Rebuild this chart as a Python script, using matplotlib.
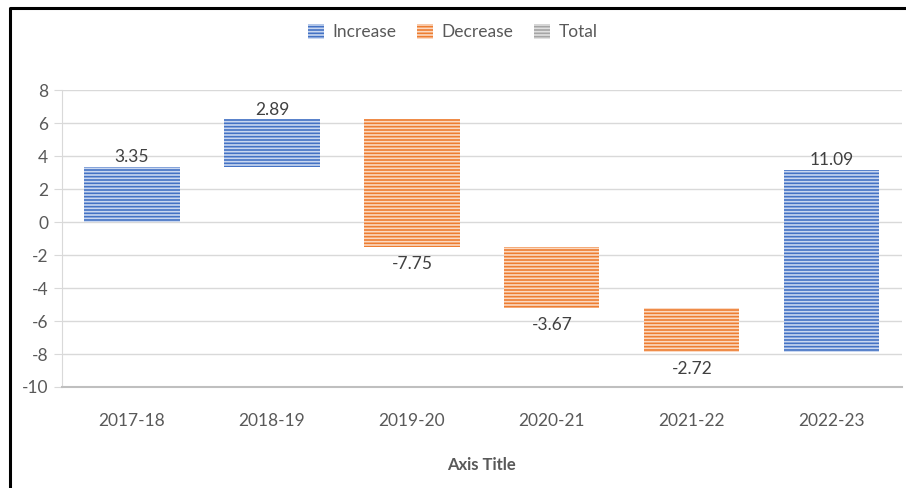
import matplotlib.pyplot as plt
from matplotlib.patches import Patch
from matplotlib.lines import Line2D

plt.rcParams['font.family'] = ['Lato', 'DejaVu Sans']
plt.rcParams['hatch.linewidth'] = 1.2
plt.rcParams['axes.unicode_minus'] = False

years = ['2017-18', '2018-19', '2019-20', '2020-21', '2021-22', '2022-23']
changes = [3.35, 2.89, -7.75, -3.67, -2.72, 11.09]

blue = '#4472C4'
blue_light = '#c9d7f0'
orange = '#ED7D31'
orange_light = '#fbd9c2'
grey = '#A5A5A5'
text_col = '#595959'

# waterfall bases (running total)
bases = []
run = 0
for v in changes:
    bases.append(run)
    run += v

fig = plt.figure(figsize=(9.06, 4.88), dpi=100)
ax = fig.add_axes([0.0684, 0.207, 0.927, 0.608])

for i, (b, v) in enumerate(zip(bases, changes)):
    fc, hc = (blue, blue_light) if v >= 0 else (orange, orange_light)
    ax.bar(i, v, bottom=b, width=0.68, color=fc, edgecolor=hc, linewidth=0,
           hatch='-----', zorder=3)
    if v >= 0:
        ax.text(i, b + v + 0.1, f'{v:.2f}', ha='center', va='bottom',
                fontsize=12.5, color='#404040')
    else:
        ax.text(i, b + v - 0.55, f'{v:.2f}', ha='center', va='top',
                fontsize=12.5, color='#404040')

ax.set_xlim(-0.5, 5.5)
ax.set_ylim(-10, 8)
ax.set_yticks(range(-10, 9, 2))
ax.set_xticks(range(len(years)))
ax.set_xticklabels(years)
ax.tick_params(axis='x', length=0, pad=19, labelsize=12.5, labelcolor=text_col)
ax.tick_params(axis='y', length=6, color='#d9d9d9', pad=4, labelsize=12.5,
               labelcolor=text_col)
ax.grid(axis='y', color='#d9d9d9', linewidth=1, zorder=0)
for s in ['top', 'right']:
    ax.spines[s].set_visible(False)
ax.spines['left'].set_color('#d9d9d9')
ax.spines['bottom'].set_color('#bfbfbf')
ax.spines['bottom'].set_linewidth(1.5)
ax.set_xlabel('Axis Title', fontsize=12, fontweight='bold', color=text_col,
              labelpad=20)

handles = [Patch(facecolor=blue, edgecolor=blue_light, linewidth=0, hatch='-----', label='Increase'),
           Patch(facecolor=orange, edgecolor=orange_light, linewidth=0, hatch='-----', label='Decrease'),
           Patch(facecolor=grey, edgecolor='#e0e0e0', linewidth=0, hatch='-----', label='Total')]
fig.legend(handles=handles, loc='center', bbox_to_anchor=(0.5, 0.934), ncol=3,
           frameon=False, fontsize=12.5, labelcolor=text_col, handlelength=0.9,
           handleheight=0.9, handletextpad=0.5, columnspacing=1.2)

# black frame on top and left
fig.add_artist(Line2D([10 / 906, 10 / 906, 1.0], [0.0, 1 - 8 / 488, 1 - 8 / 488],
                      transform=fig.transFigure, color='black', linewidth=2.2))

fig.savefig('out.png', dpi=100)
